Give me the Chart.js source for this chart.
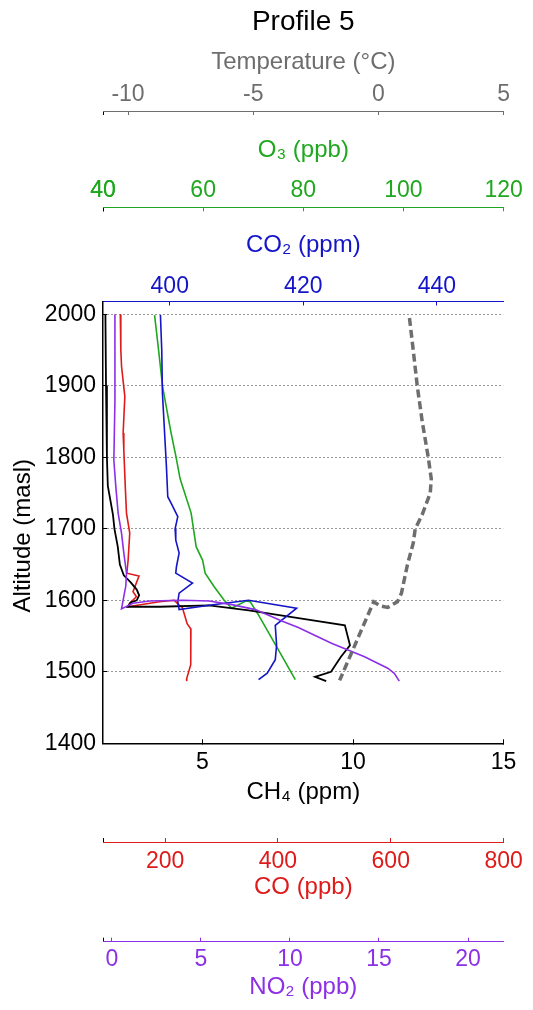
<!DOCTYPE html>
<html>
<head>
<meta charset="utf-8">
<title>Profile 5</title>
<script src="https://cdn.jsdelivr.net/npm/chart.js@4.4.1/dist/chart.umd.min.js"></script>
<style>
  html, body { margin: 0; padding: 0; background: #fff; }
</style>
</head>
<body>
<canvas id="canvas" width="533" height="1010"></canvas>
<script>
const FONT = "'Liberation Sans', Arial, Helvetica, sans-serif";

// tick values of each axis
const altTicks = [1400, 1500, 1600, 1700, 1800, 1900, 2000];
const tempTicks = [-10, -5, 0, 5];
const o3Ticks = [40, 60, 80, 100, 120];
const co2Ticks = [400, 420, 440];
const ch4Ticks = [5, 10, 15];
const coTicks = [200, 400, 600, 800];
const no2Ticks = [0, 5, 10, 15, 20];

// vertical profiles: altitude (masl) and the value measured there
const tempAlt = [1995, 1950, 1900, 1850, 1800, 1770, 1750, 1720, 1700, 1680, 1650, 1610, 1598, 1590, 1592, 1598, 1488];
const tempVal = [1.24, 1.39, 1.55, 1.75, 1.99, 2.11, 2.07, 1.75, 1.47, 1.39, 1.16, 0.92, 0.76, 0.37, 0.09, -0.19, -1.55];

const ch4Alt = [2000, 1900, 1800, 1760, 1720, 1700, 1675, 1650, 1635, 1625, 1615, 1607, 1600, 1597, 1591, 1591, 1593, 1586, 1575, 1565, 1537, 1521, 1500, 1493, 1487];
const ch4Val = [1.78, 1.80, 1.83, 1.86, 2.03, 2.08, 2.19, 2.26, 2.39, 2.62, 2.82, 2.90, 2.82, 2.62, 2.52, 3.58, 5.22, 6.54, 8.19, 9.73, 9.90, 9.60, 9.27, 8.74, 9.11];

const co2Alt = [1999, 1950, 1890, 1787, 1745, 1736, 1717, 1700, 1684, 1666, 1647, 1638, 1624, 1610, 1598, 1587, 1593, 1600, 1589, 1565, 1537, 1517, 1498, 1489];
const co2Val = [398.6, 398.8, 398.9, 399.5, 399.7, 400.2, 401.2, 400.8, 400.9, 401.4, 401.0, 400.9, 403.4, 401.4, 401.2, 401.4, 405.9, 411.8, 419.0, 415.8, 416.0, 415.8, 414.6, 413.3];

const o3Alt = [1999, 1950, 1899, 1834, 1800, 1770, 1722, 1675, 1656, 1638, 1619, 1600, 1589, 1599, 1598, 1579, 1531, 1489];
const o3Val = [50.3, 51.1, 51.9, 53.6, 54.6, 55.4, 57.6, 58.6, 59.9, 60.4, 62.2, 64.2, 65.7, 68.5, 69.4, 71.1, 75.0, 78.4];

const coAlt = [2000, 1950, 1927, 1885, 1834, 1810, 1759, 1722, 1694, 1656, 1638, 1634, 1612, 1605, 1596, 1591, 1598, 1600, 1593, 1590, 1567, 1560, 1510, 1490, 1487];
const coVal = [120.7, 121.6, 122.9, 128.7, 125.7, 126.9, 129.5, 131.6, 137.4, 134.5, 132.2, 153.8, 143.2, 149.2, 137.4, 133.9, 190.1, 216.5, 225.3, 230.6, 239.3, 245.8, 245.5, 238.1, 238.5];

const no2Alt = [2000, 1880, 1796, 1759, 1722, 1694, 1666, 1638, 1620, 1596, 1588, 1596, 1599, 1600, 1599, 1594, 1587, 1571, 1562, 1540, 1521, 1505, 1498, 1487];
const no2Val = [0.17, 0.17, 0.11, 0.22, 0.35, 0.54, 0.67, 0.82, 0.78, 0.60, 0.54, 1.17, 2.12, 3.96, 5.46, 6.74, 8.06, 9.54, 10.47, 12.33, 14.19, 15.49, 15.86, 16.14];

const GREY = '#6e6e6e';
const GREEN = '#1fa81f';
const BLUE = '#1414c8';
const RED = '#de1a1a';
const PURPLE = '#8c2fe6';

function profile(alt, vals) {
  return alt.map((a, i) => ({ x: vals[i], y: a }));
}

function line(label, axis, alt, vals, color, extra) {
  return Object.assign({
    label: label,
    xAxisID: axis,
    yAxisID: 'y',
    data: profile(alt, vals),
    borderColor: color,
    borderWidth: 1.6,
    showLine: true,
    pointRadius: 0,
    tension: 0
  }, extra || {});
}

// one horizontal axis; the stub tick at the left end mimics the short black spine
function xAxis(o) {
  const list = o.ticks;
  return {
    type: 'linear',
    position: o.position,
    weight: o.weight,
    min: o.min,
    max: o.max,
    afterBuildTicks: s => {
      const t = list.map(v => ({ value: v }));
      if (o.stub) t.unshift({ value: o.min });
      s.ticks = t;
    },
    afterFit: s => { s.height = o.height; },
    grid: {
      drawOnChartArea: false,
      drawTicks: true,
      tickLength: -4,
      tickWidth: 1,
      tickColor: c => (o.stub && c.tick && c.tick.value === o.min) ? '#000' : o.color
    },
    border: { display: true, color: o.borderColor || o.color, width: o.borderWidth || 1 },
    ticks: {
      color: o.color,
      padding: o.tickPad,
      maxRotation: 0,
      font: { family: FONT, size: 23 },
      callback: v => list.includes(v) ? String(v) : ''
    },
    title: {
      display: true,
      text: o.title,
      color: o.color,
      font: { family: FONT, size: 24 },
      padding: o.position === 'top' ? { top: o.titlePad, bottom: 0 } : { top: 0, bottom: o.titlePad }
    }
  };
}

const ctx = document.getElementById('canvas').getContext('2d');

new Chart(ctx, {
  type: 'scatter',
  data: {
    datasets: [
      line('Temperature', 'temp', tempAlt, tempVal, GREY, { borderWidth: 3.5, borderDash: [8, 4] }),
      line('NO2', 'no2', no2Alt, no2Val, PURPLE),
      line('CO2', 'co2', co2Alt, co2Val, BLUE),
      line('CH4', 'x', ch4Alt, ch4Val, '#000', { borderWidth: 1.8 }),
      line('O3', 'o3', o3Alt, o3Val, GREEN),
      line('CO', 'co', coAlt, coVal, RED)
    ]
  },
  options: {
    responsive: false,
    animation: false,
    layout: { autoPadding: false, padding: { left: 0, right: 26, top: 0, bottom: 0 } },
    plugins: {
      legend: { display: false },
      tooltip: { enabled: false },
      title: {
        display: true,
        text: 'Profile 5',
        fullSize: false,
        color: '#000',
        font: { family: FONT, size: 28, weight: 'normal' },
        padding: { top: 5.2, bottom: 1.2 }
      }
    },
    scales: {
      temp: xAxis({ position: 'top', weight: 30, min: -11, max: 5, ticks: tempTicks, color: GREY,
        title: 'Temperature (°C)', height: 71, tickPad: 6.2, titlePad: 7.6, stub: true }),
      o3: xAxis({ position: 'top', weight: 20, min: 40, max: 120, ticks: o3Ticks, color: GREEN,
        title: 'O₃ (ppb)', height: 96.3, tickPad: 6.5, titlePad: 24.6, stub: true }),
      co2: xAxis({ position: 'top', weight: 10, min: 390, max: 450, ticks: co2Ticks, color: BLUE,
        title: 'CO₂ (ppm)', height: 94.2, tickPad: 4.7, titlePad: 23.3 }),
      x: xAxis({ position: 'bottom', weight: 10, min: 1.7, max: 15, ticks: ch4Ticks, color: '#000',
        title: 'CH₄ (ppm)', height: 98.7, tickPad: 9.9, titlePad: 35.6, borderWidth: 1.5 }),
      co: xAxis({ position: 'bottom', weight: 20, min: 90, max: 800, ticks: coTicks, color: RED,
        title: 'CO (ppb)', height: 99.7, tickPad: 10.2, titlePad: 40.3, stub: true }),
      no2: xAxis({ position: 'bottom', weight: 30, min: -0.5, max: 22, ticks: no2Ticks, color: PURPLE,
        title: 'NO₂ (ppb)', height: 68.3, tickPad: 8.5, titlePad: 8.1, stub: true }),
      y: {
        type: 'linear',
        position: 'left',
        min: 1400,
        max: 2018,
        afterBuildTicks: s => { s.ticks = altTicks.map(v => ({ value: v })); },
        afterFit: s => { s.width = 103; },
        grid: {
          color: '#333',
          lineWidth: 1,
          tickLength: -4,
          tickColor: '#000',
          tickBorderDash: []
        },
        border: { display: true, color: '#000', width: 1.5, dash: [1, 3] },
        ticks: {
          color: '#000',
          padding: 11,
          font: { family: FONT, size: 23 },
          callback: v => String(v)
        },
        title: {
          display: true,
          // trailing spaces push the label a little below the middle of the axis
          text: 'Altitude (masl)    ',
          color: '#000',
          font: { family: FONT, size: 24 },
          padding: { top: 8.6, bottom: 0 }
        }
      }
    }
  }
});
</script>
</body>
</html>
